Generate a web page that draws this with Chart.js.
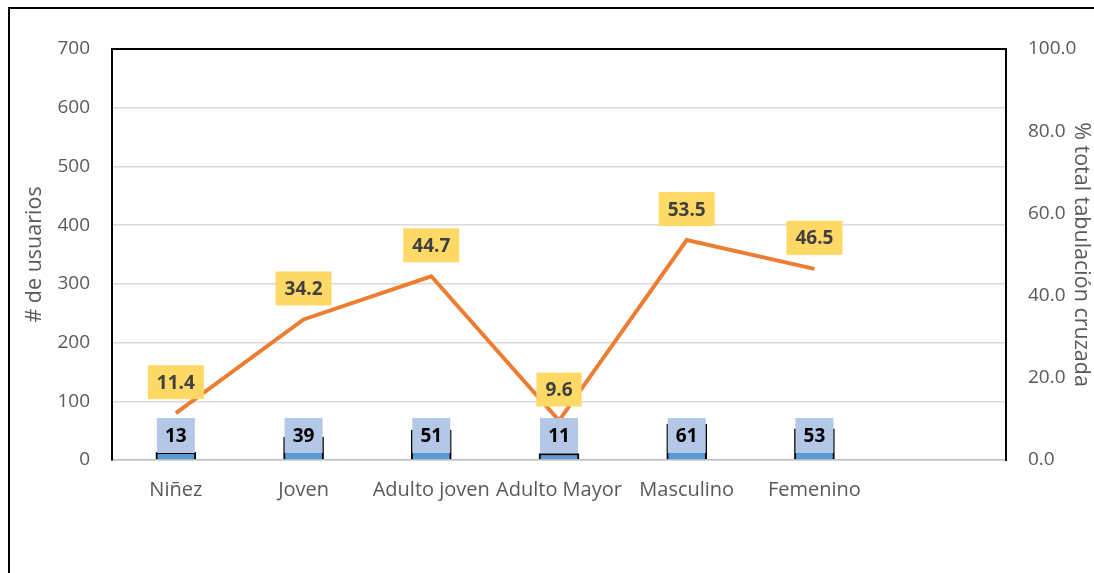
<!DOCTYPE html>
<html>
<head>
<meta charset="utf-8">
<script src="https://cdn.jsdelivr.net/npm/chart.js@4"></script>
<style>
  html, body { margin: 0; padding: 0; background: #fff; }
  #wrap { position: relative; width: 1094px; height: 573px; overflow: hidden; }
  #frame { position: absolute; left: 8px; top: 7px; width: 1200px; height: 700px; border: 2px solid #000; pointer-events: none; }
</style>
</head>
<body>
<div id="wrap">
  <canvas id="chart" width="1094" height="573"></canvas>
  <div id="frame"></div>
</div>
<script>
const categories = ['Niñez', 'Joven', 'Adulto joven', 'Adulto Mayor', 'Masculino', 'Femenino', ''];
const usuarios = [13, 39, 51, 11, 61, 53, null];
const porcentaje = [11.4, 34.2, 44.7, 9.6, 53.5, 46.5, null];

const FONT = "'Open Sans', 'Noto Sans', sans-serif";

// Etiquetas con caja de color
const labelBoxes = {
  id: 'labelBoxes',
  afterDatasetsDraw(chart) {
    const ctx = chart.ctx;
    const area = chart.chartArea;
    ctx.save();
    ctx.font = 'bold 19px ' + FONT;
    ctx.textAlign = 'center';
    ctx.textBaseline = 'middle';

    // barras: caja fija cerca de la base
    chart.getDatasetMeta(0).data.forEach((bar, i) => {
      if (usuarios[i] == null) return;
      const cy = area.bottom - 24.5;
      ctx.fillStyle = '#B4C7E7';
      ctx.fillRect(bar.x - 19, cy - 17.5, 38, 35);
      ctx.fillStyle = '#000';
      ctx.fillText(String(usuarios[i]), bar.x, cy + 1);
    });

    // línea: caja amarilla arriba del punto
    chart.getDatasetMeta(1).data.forEach((pt, i) => {
      if (porcentaje[i] == null) return;
      const txt = porcentaje[i].toFixed(1);
      const w = ctx.measureText(txt).width + 18;
      const cy = pt.y - 31;
      ctx.fillStyle = '#FFD966';
      ctx.fillRect(pt.x - w / 2, cy - 17, w, 34);
      ctx.fillStyle = '#404040';
      ctx.fillText(txt, pt.x, cy + 1);
    });
    ctx.restore();
  }
};

new Chart(document.getElementById('chart'), {
  data: {
    labels: categories,
    datasets: [{
      type: 'bar',
      label: '# de usuarios',
      data: usuarios,
      yAxisID: 'y',
      backgroundColor: '#5B9BD5',
      borderColor: '#000',
      borderWidth: { top: 2, left: 2, right: 2, bottom: 0 },
      barThickness: 40,
      order: 2
    }, {
      type: 'line',
      label: '% total tabulación cruzada',
      data: porcentaje,
      yAxisID: 'y1',
      borderColor: '#ED7D31',
      borderWidth: 4,
      pointRadius: 0,
      tension: 0,
      order: 1
    }]
  },
  options: {
    responsive: false,
    animation: false,
    layout: { padding: { top: 49, left: 0, right: 0, bottom: 0 } },
    plugins: { legend: { display: false }, tooltip: { enabled: false } },
    scales: {
      x: {
        offset: true,
        grid: { display: false, drawTicks: false },
        border: { color: '#BFBFBF', width: 1.5 },
        ticks: { color: '#595959', font: { family: FONT, size: 20 }, padding: 18, maxRotation: 0, autoSkip: false },
        afterFit(s) { s.height = 113; }
      },
      y: {
        position: 'left',
        min: 0, max: 700,
        ticks: { stepSize: 100, color: '#595959', font: { family: FONT, size: 19 }, padding: 22 },
        grid: {
          drawTicks: false,
          color: c => c.tick && c.tick.value === 700 ? '#000' : '#D9D9D9',
          lineWidth: c => c.tick && c.tick.value === 700 ? 2 : 1.5
        },
        border: { color: '#000', width: 2 },
        title: { display: true, text: '# de usuarios', color: '#595959', font: { family: FONT, size: 21.5 }, padding: { top: 22, bottom: 0 } },
        afterFit(s) { s.width = 112; }
      },
      y1: {
        position: 'right',
        min: 0, max: 100,
        ticks: { stepSize: 20, color: '#595959', font: { family: FONT, size: 19 }, padding: 22, callback: v => v.toFixed(1) },
        grid: { display: false, drawTicks: false },
        border: { color: '#000', width: 2 },
        title: { display: true, text: '% total tabulación cruzada', color: '#595959', font: { family: FONT, size: 21.5 }, padding: { top: 0, bottom: 0 } },
        afterFit(s) { s.width = 88; }
      }
    }
  },
  plugins: [labelBoxes]
});
</script>
</body>
</html>
